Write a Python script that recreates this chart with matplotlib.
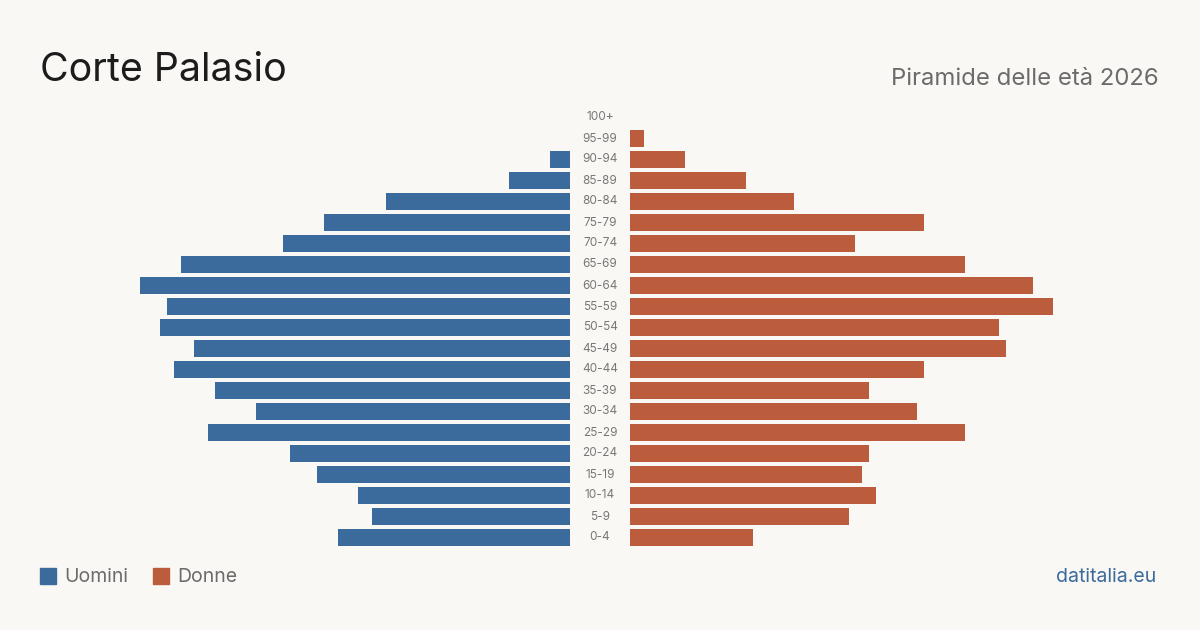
import matplotlib
matplotlib.use('Agg')
import matplotlib.pyplot as plt
from matplotlib.patches import Rectangle

AGE_GROUPS = ['0-4', '5-9', '10-14', '15-19', '20-24', '25-29', '30-34',
              '35-39', '40-44', '45-49', '50-54', '55-59', '60-64', '65-69',
              '70-74', '75-79', '80-84', '85-89', '90-94', '95-99', '100+']
MEN = [34, 29, 31, 37, 41, 53, 46, 52, 58, 55, 60, 59, 63, 57,
       42, 36, 27, 9, 3, 0, 0]
WOMEN = [18, 32, 36, 34, 35, 49, 42, 35, 43, 55, 54, 62, 59, 49,
         33, 43, 24, 17, 8, 2, 0]

BG = '#f9f8f4'
BLUE = '#3b6b9c'
ORANGE = '#bb5c3c'
INK = '#1c1c1c'
GREY = '#6b6b6b'
LABEL = '#777777'

plt.rcParams['font.family'] = ['Inter', 'DejaVu Sans']

W, H = 1200, 630
fig = plt.figure(figsize=(12, 6.3), dpi=100)
fig.patch.set_facecolor(BG)

XMAX = 70
PX_PER_UNIT = 6.83
span = XMAX * PX_PER_UNIT
bottom = 1 - 548 / H
height = 441 / H

axl = fig.add_axes([(570 - span) / W, bottom, span / W, height])
axr = fig.add_axes([630 / W, bottom, span / W, height])

y = range(len(AGE_GROUPS))
axl.barh(y, MEN, height=0.8, color=BLUE)
axr.barh(y, WOMEN, height=0.8, color=ORANGE)
axl.set_xlim(XMAX, 0)
axr.set_xlim(0, XMAX)
for ax in (axl, axr):
    ax.set_ylim(-0.5, len(AGE_GROUPS) - 0.5)
    ax.axis('off')
    ax.patch.set_alpha(0)

for i, lab in enumerate(AGE_GROUPS):
    yy = axl.transData.transform((0, i))[1]
    fig.text(600 / W, yy / H, lab, ha='center', va='center',
             fontsize=8.5, color=LABEL)

fig.text(40 / W, 1 - 81 / H, 'Corte Palasio', fontsize=28.3, color=INK,
         ha='left', va='baseline')
fig.text(1159 / W, 1 - 85 / H, 'Piramide delle età 2026', fontsize=17.2,
         color=GREY, ha='right', va='baseline')

fig.patches.append(Rectangle((40 / W, 1 - 584 / H), 16 / W, 16 / H,
                             transform=fig.transFigure, color=BLUE))
fig.text(64 / W, 1 - 577 / H, 'Uomini', fontsize=14, color=GREY,
         ha='left', va='center')
fig.patches.append(Rectangle((153 / W, 1 - 584 / H), 16 / W, 16 / H,
                             transform=fig.transFigure, color=ORANGE))
fig.text(177 / W, 1 - 577 / H, 'Donne', fontsize=14, color=GREY,
         ha='left', va='center')
fig.text(1156 / W, 1 - 577 / H, 'datitalia.eu', fontsize=14, color=BLUE,
         ha='right', va='center')

fig.savefig('out.png', dpi=100, facecolor=BG)
